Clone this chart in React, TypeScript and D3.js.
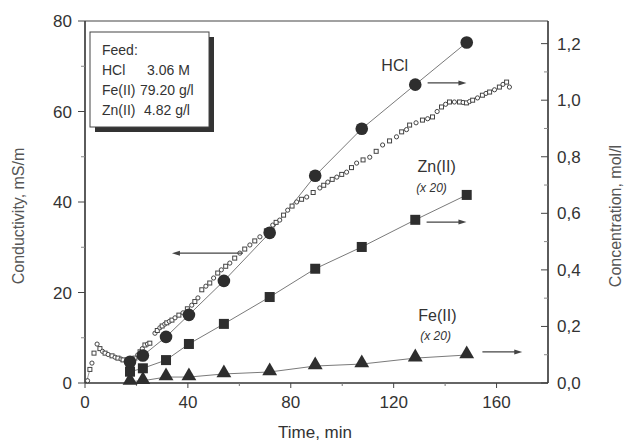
import * as d3 from 'd3';

// time (min) of the sampled concentration points
const sampleTimes = [17.5, 22.5, 31.5, 40.4, 54, 71.8, 89.5, 107.6, 128.4, 148.4];
// concentrations, mol/l (Zn and Fe scaled x 20)
const hclConc = [0.075, 0.097, 0.163, 0.241, 0.361, 0.531, 0.733, 0.899, 1.055, 1.204];
const znConc = [0.04, 0.052, 0.081, 0.138, 0.209, 0.304, 0.404, 0.481, 0.577, 0.665];
const feConc = [0.005, 0.008, 0.021, 0.021, 0.032, 0.039, 0.06, 0.067, 0.088, 0.099];

// conductivity trace [time min, mS/m]
const conductivity: [number, number][] = [
  [1.0, 0.5], [1.9, 3.0], [2.7, 4.4], [3.5, 6.6], [4.7, 8.6], [5.8, 7.6], [6.8, 7.0], [7.8, 6.6],
  [9.0, 6.3], [10.5, 6.0], [11.7, 5.7], [12.8, 5.5], [14.0, 5.3], [14.8, 5.1], [16.0, 4.8], [16.7, 4.6],
  [18.0, 4.8], [19.4, 5.5], [20.5, 6.2], [21.4, 6.9], [22.3, 7.6], [23.3, 8.4], [24.3, 8.6], [25.2, 8.8],
  [27.2, 11.0], [28.1, 11.6], [29.1, 12.2], [30.0, 12.6], [31.0, 13.0], [31.8, 13.3], [32.8, 13.6],
  [33.8, 13.9], [35.0, 14.4], [36.5, 15.0], [38.1, 15.5], [39.8, 16.4], [41.5, 17.2], [42.7, 18.0],
  [43.9, 18.8], [45.4, 20.6], [47.0, 21.4], [48.5, 22.1], [50.0, 23.2], [51.6, 24.3], [53.0, 25.0],
  [54.7, 25.8], [56.3, 26.5], [58.2, 27.6], [60.2, 28.7], [62.1, 29.6], [64.1, 30.5], [66.0, 31.4],
  [68.0, 32.3], [70.5, 33.6], [73.0, 34.9], [74.3, 35.5], [75.7, 36.0], [77.2, 37.1], [78.8, 38.2],
  [80.5, 39.1], [82.3, 40.0], [84.2, 40.6], [86.2, 41.1], [88.7, 42.1], [91.3, 43.1], [92.8, 43.7],
  [94.4, 44.4], [96.1, 45.0], [97.9, 45.5], [99.8, 46.1], [101.7, 46.6], [103.6, 47.6], [105.6, 48.6],
  [108.1, 49.3], [110.7, 49.9], [113.2, 51.2], [115.7, 52.6], [118.4, 53.5], [121.1, 54.4], [123.1, 55.5],
  [125.0, 56.0], [126.2, 57.0], [128.7, 57.5], [131.2, 58.1], [133.2, 58.4], [135.1, 58.8], [136.9, 60.0],
  [138.6, 61.0], [140.2, 61.6], [141.7, 62.1], [143.6, 62.1], [145.6, 62.1], [147.0, 62.0], [148.3, 61.9],
  [149.5, 62.2], [150.7, 62.5], [152.6, 63.0], [154.5, 63.6], [155.9, 64.0], [157.3, 64.3], [159.2, 64.8],
  [161.1, 65.4], [162.5, 66.0], [163.9, 66.5], [165.0, 65.4],
];

const xTicks = [0, 40, 80, 120, 160];
const xMinor = [20, 60, 100, 140];
const leftTicks = [0, 20, 40, 60, 80];
const leftMinor = [10, 30, 50, 70];
const rightTicks = [0, 0.2, 0.4, 0.6, 0.8, 1.0, 1.2];
const rightMinor = [0.1, 0.3, 0.5, 0.7, 0.9, 1.1];

const feedLines = [
  ['Feed:', ''],
  ['HCl', '3.06 M'],
  ['Fe(II)', '79.20 g/l'],
  ['Zn(II)', '4.82 g/l'],
];

const FONT = 'Liberation Sans, Arial, sans-serif';
const INK = '#333';
const LINE = '#7a7a7a';

export default function App() {
  const x = d3.scaleLinear().domain([0, 180]).range([85, 548]);
  const yL = d3.scaleLinear().domain([0, 80]).range([383, 21]);
  const yR = d3.scaleLinear().domain([0, 1.28]).range([383, 21]);

  const pts = (vals: number[]) => sampleTimes.map((t, i) => [t, vals[i]] as [number, number]);
  const lineR = d3.line<[number, number]>().x(d => x(d[0])).y(d => yR(d[1]));
  const tri = d3.symbol().type(d3.symbolTriangle).size(95)();

  const arrow = (t1: number, t2: number, yp: number, key: string) => {
    const x1 = x(t1), x2 = x(t2);
    const dir = Math.sign(x2 - x1);
    return (
      <g key={key}>
        <line x1={x1} x2={x2 - dir * 6} y1={yp} y2={yp} stroke="#444" strokeWidth={1.2} />
        <path d={`M${x2},${yp} L${x2 - dir * 8},${yp - 2.5} L${x2 - dir * 8},${yp + 2.5} Z`} fill="#444" />
      </g>
    );
  };

  return (
    <svg width={626} height={441} style={{ position: 'absolute', left: 0, top: 0, background: '#fff' }}
      fontFamily={FONT}>
      {/* frame */}
      <line x1={85} x2={548} y1={21} y2={21} stroke="#444" strokeWidth={1.2} />
      <line x1={85} x2={85} y1={21} y2={383} stroke="#333" strokeWidth={1.6} />
      <line x1={548} x2={548} y1={21} y2={383} stroke="#333" strokeWidth={1.6} />
      <line x1={85} x2={548} y1={383} y2={383} stroke="#333" strokeWidth={1.6} />

      {/* x axis */}
      {xTicks.map(t => (
        <g key={'xt' + t}>
          <line x1={x(t)} x2={x(t)} y1={383} y2={388} stroke="#444" />
          <text x={x(t)} y={408} textAnchor="middle" fontSize={17} fill={INK}>{t}</text>
        </g>
      ))}
      {xMinor.map(t => <line key={'xm' + t} x1={x(t)} x2={x(t)} y1={383} y2={386} stroke="#777" />)}
      <text x={315} y={438} textAnchor="middle" fontSize={17} fill={INK}>Time, min</text>

      {/* left axis */}
      {leftTicks.map(v => (
        <g key={'lt' + v}>
          <line x1={78} x2={85} y1={yL(v)} y2={yL(v)} stroke="#444" />
          <text x={72} y={yL(v) + 6} textAnchor="end" fontSize={17} fill={INK}>{v}</text>
        </g>
      ))}
      {leftMinor.map(v => <line key={'lm' + v} x1={81} x2={85} y1={yL(v)} y2={yL(v)} stroke="#888" />)}
      <text transform="translate(24,216) rotate(-90)" textAnchor="middle" fontSize={16} fill="#555">
        Conductivity, mS/m
      </text>

      {/* right axis */}
      {rightTicks.map(v => (
        <g key={'rt' + v}>
          <line x1={541} x2={548} y1={yR(v)} y2={yR(v)} stroke="#444" />
          <text x={557} y={yR(v) + 6} fontSize={17} fill={INK}>{v.toFixed(1).replace('.', ',')}</text>
        </g>
      ))}
      {rightMinor.map(v => <line key={'rm' + v} x1={544} x2={548} y1={yR(v)} y2={yR(v)} stroke="#888" />)}
      <text transform="translate(621,216) rotate(-90)" textAnchor="middle" fontSize={16} fill="#555">
        Concentration, mol/l
      </text>

      {/* connecting lines */}
      <path d={lineR(pts(hclConc)) ?? ''} fill="none" stroke={LINE} strokeWidth={1} />
      <path d={lineR(pts(znConc)) ?? ''} fill="none" stroke={LINE} strokeWidth={1} />
      <path d={lineR(pts(feConc)) ?? ''} fill="none" stroke={LINE} strokeWidth={1} />

      {/* conductivity trace */}
      <line x1={x(0.5)} y1={yL(0)} x2={x(conductivity[1][0])} y2={yL(conductivity[1][1])} stroke="#999" />
      {conductivity.map((d, i) => (
        i % 2 === 0
          ? <circle key={'c' + i} cx={x(d[0])} cy={yL(d[1])} r={2.1} fill="#fff" stroke="#444" strokeWidth={1} />
          : <rect key={'c' + i} x={x(d[0]) - 2} y={yL(d[1]) - 2} width={4} height={4} fill="#fff" stroke="#444" strokeWidth={1} />
      ))}

      {/* markers */}
      {pts(feConc).map((d, i) => (
        <path key={'fe' + i} d={tri ?? ''} transform={`translate(${x(d[0])},${yR(d[1]) - 1})`} fill="#2e2e2e" />
      ))}
      {pts(znConc).map((d, i) => (
        <rect key={'zn' + i} x={x(d[0]) - 5} y={yR(d[1]) - 5} width={10} height={10} fill="#2e2e2e" />
      ))}
      {pts(hclConc).map((d, i) => (
        <circle key={'hcl' + i} cx={x(d[0])} cy={yR(d[1])} r={6.3} fill="#2e2e2e" />
      ))}

      {/* arrows */}
      {arrow(61.4, 33.8, yL(28.7), 'a1')}
      {arrow(133.2, 148.3, yR(1.061), 'a2')}
      {arrow(132.8, 148.3, yR(0.569), 'a3')}
      {arrow(154.5, 170, yR(0.11), 'a4')}

      {/* series labels */}
      <text x={x(120.4)} y={yR(1.103)} textAnchor="middle" fontSize={16} fill={INK}>HCl</text>
      <text x={x(136.7)} y={yR(0.746)} textAnchor="middle" fontSize={16} fill={INK}>Zn(II)</text>
      <text x={x(134.7)} y={yR(0.675)} textAnchor="middle" fontSize={12} fontStyle="italic" fill={INK}>(x 20)</text>
      <text x={x(137)} y={yR(0.219)} textAnchor="middle" fontSize={16} fill={INK}>Fe(II)</text>
      <text x={x(136.3)} y={yR(0.152)} textAnchor="middle" fontSize={12} fontStyle="italic" fill={INK}>(x 20)</text>

      {/* feed box */}
      <rect x={95} y={37} width={119} height={95} fill="#333" />
      <rect x={90} y={32} width={119} height={95} fill="#fff" stroke="#444" strokeWidth={1} />
      {feedLines.map((l, i) => (
        <g key={'f' + i}>
          <text x={102} y={55 + i * 20} fontSize={14} fill={INK}>{l[0]}</text>
          <text x={i === 2 ? 140 : i === 1 ? 147 : 144} y={55 + i * 20} fontSize={14} fill={INK}>{l[1]}</text>
        </g>
      ))}
    </svg>
  );
}
